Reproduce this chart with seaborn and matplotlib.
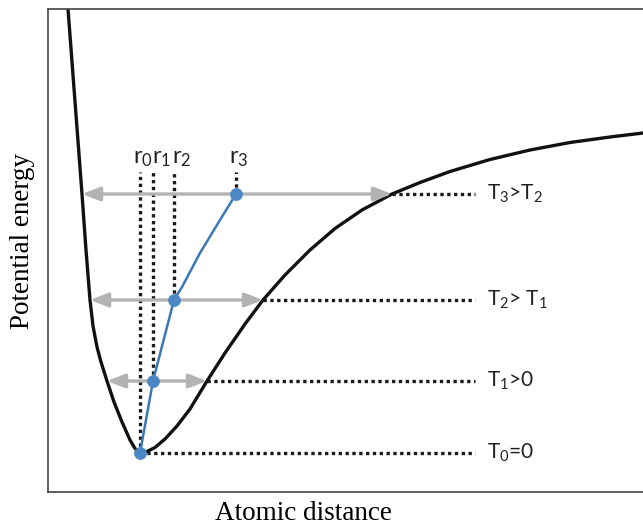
import matplotlib
matplotlib.use("Agg")
import matplotlib.pyplot as plt
import seaborn as sns
import pandas as pd

# Potential energy curve (atomic distance, energy), arbitrary units
curve_x = [0.20, 0.34, 0.38, 0.42, 0.45, 0.49, 0.53, 0.59, 0.66, 0.74, 0.82, 0.87,
           0.92, 0.99, 1.07, 1.17, 1.29, 1.42, 1.59, 1.77, 1.97, 2.15, 2.37, 2.62,
           2.87, 3.14, 3.44, 3.72, 4.02, 4.42, 4.82, 5.22, 5.62, 5.95]
curve_y = [4.83, 2.98, 2.42, 1.92, 1.66, 1.45, 1.30, 1.11, 0.90, 0.70, 0.52, 0.435,
           0.39, 0.405, 0.445, 0.53, 0.66, 0.83, 1.11, 1.39, 1.68, 1.92, 2.17, 2.42,
           2.635, 2.82, 2.98, 3.095, 3.205, 3.325, 3.42, 3.495, 3.55, 3.59]

# Vibration energy levels and the mean atomic distance at each level
levels = [0.39, 1.11, 1.92, 2.98]
r_pos = [0.92, 1.05, 1.26, 1.88]
r_labels = ["r$_0$", "r$_1$", "r$_2$", "r$_3$"]
t_labels = ["T$_0$=0", "T$_1$>0", "T$_2$> T$_1$", "T$_3$>T$_2$"]

# Turning points of the vibration at levels 1..3
left_x = [0.59, 0.42, 0.34]
right_x = [1.59, 2.15, 3.44]

# Locus of the mean distance
mean_x = [0.92, 1.05, 1.26, 1.34, 1.52, 1.72, 1.88]
mean_y = [0.39, 1.11, 1.92, 2.05, 2.39, 2.72, 2.98]

sns.set_theme(style="white")
plt.rcParams["font.family"] = ["Lato", "DejaVu Sans"]
plt.rcParams["mathtext.fontset"] = "custom"
plt.rcParams["mathtext.rm"] = "Lato"
plt.rcParams["mathtext.it"] = "Lato"

fig = plt.figure(figsize=(6.43, 5.25), dpi=100)
ax = fig.add_axes([48 / 643, 33 / 525, 600 / 643, 483 / 525])

blue = "#4a87c4"
gray = "#b3b3b3"
dot_style = dict(color="#1a1a1a", lw=2.4, ls=(0, (1, 1.05)), dash_capstyle="butt")

curve = pd.DataFrame({"x": curve_x, "y": curve_y})
sns.lineplot(data=curve, x="x", y="y", sort=False, color="#111111", lw=2.4,
             ax=ax, solid_capstyle="round", solid_joinstyle="round")

# Double arrows spanning each vibration
for lx, rx, lv in zip(left_x, right_x, levels[1:]):
    ax.annotate("", xy=(lx, lv), xytext=(rx, lv),
                arrowprops=dict(arrowstyle="<|-|>,head_length=0.9,head_width=0.35",
                                color=gray, lw=2.4, shrinkA=0, shrinkB=0))

# Dotted guides to the level labels
label_end = 4.27
text_x = 4.39
ax.plot([r_pos[0], label_end], [levels[0], levels[0]], **dot_style)
for rx, lv in zip(right_x, levels[1:]):
    ax.plot([rx, label_end], [lv, lv], **dot_style)
for lv, lab in zip(levels, t_labels):
    ax.text(text_x, lv, lab, fontsize=15, color="#222222", va="center", ha="left")

# Dotted guides up to the distance labels
r_top = 3.20
r_label_dx = [-0.075, -0.01, -0.025, -0.07]
for rx, lv, lab, dx in zip(r_pos, levels, r_labels, r_label_dx):
    ax.plot([rx, rx], [lv, r_top], **dot_style)
    ax.text(rx + dx, r_top + 0.03, lab, fontsize=17, color="#222222",
            ha="left", va="bottom")

sns.lineplot(x=mean_x, y=mean_y, sort=False, color="#3a78b5", lw=1.8, ax=ax)
sns.scatterplot(x=r_pos, y=levels, color=blue, s=75, edgecolor=blue,
                linewidth=0.5, zorder=5, ax=ax)

ax.set_xlim(0, 6)
ax.set_ylim(0, 4.83)
ax.set_xticks([])
ax.set_yticks([])
for side in ["left", "top", "bottom"]:
    ax.spines[side].set_color("#444444")
    ax.spines[side].set_linewidth(1.2)
ax.spines["right"].set_visible(False)

ax.set_xlabel("Atomic distance", family="Liberation Serif", fontsize=19.5, color="black")
ax.set_ylabel("Potential energy", family="Liberation Serif", fontsize=19.5, color="black")
ax.xaxis.label.set_va("baseline")
ax.xaxis.set_label_coords(0.425, -0.058)
ax.yaxis.label.set_va("center")
ax.yaxis.set_label_coords(-0.042, 0.52)

fig.savefig("out.png", dpi=100)
